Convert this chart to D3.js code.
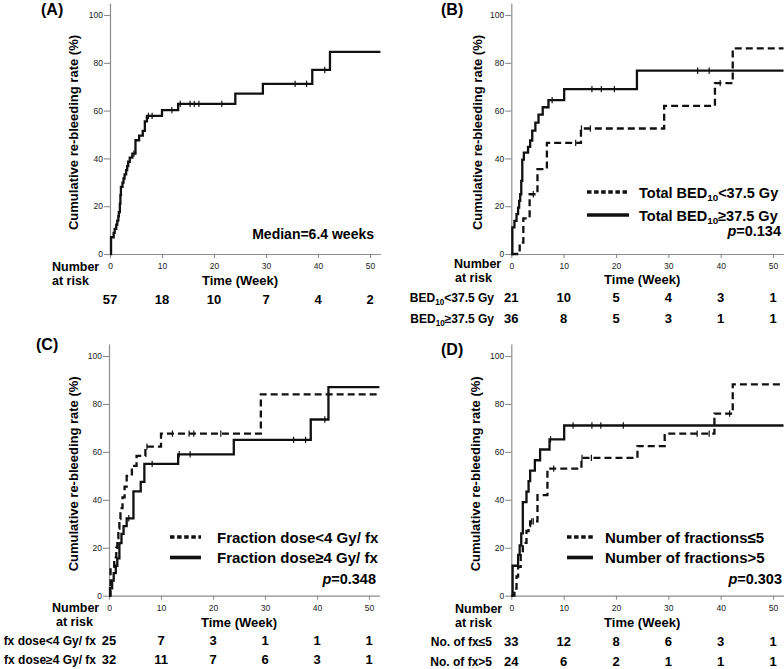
<!DOCTYPE html>
<html><head><meta charset="utf-8">
<script src="https://cdn.jsdelivr.net/npm/d3@7"></script>
<style>
body{margin:0;background:#fff;}
svg text{font-family:"Liberation Sans",Arial,Helvetica,sans-serif;}
</style></head><body>
<svg id="chart" width="784" height="669"></svg>
<script>
const weekTicks=[0,10,20,30,40,50];
const pctTicks=[0,20,40,60,80,100];

// Panel A: all patients
const aTimes=[0.2,0.7,0.9,1.2,1.4,1.6,1.7,1.9,2.0,2.1,2.4,2.6,2.8,3.1,3.3,3.5,3.8,4.3,4.9,5.6,6.3,6.7,7.1,10.0,13.1,24.1,29.4,38.9,42.3];
const aRates=[7.0,8.8,10.5,12.3,14.0,15.8,17.5,21.1,24.6,28.1,29.9,31.6,33.3,35.1,36.8,38.6,40.3,42.0,47.6,49.5,51.5,55.5,57.8,60.2,62.8,67.1,71.2,77.0,84.6];
const aCensor=[4.6,7.4,8.1,11.9,13.5,15.4,16.2,17.1,21.5,35.6,37.8,41.3];
const aRisk=[57,18,10,7,4,2];

// Panel B: BED10
const bLoTimes=[1.6,2.3,3.5,5.0,6.8,13.3,29.2,38.9,42.3];
const bLoRates=[4.8,14.9,25.0,35.5,46.5,52.5,62.0,71.5,86.0];
const bLoCensor=[4.2,12.3,13.4,15.1,39.9];
const bHiTimes=[0.2,0.6,1.0,1.3,1.5,1.7,1.9,2.1,2.4,3.2,3.6,4.0,4.6,5.2,6.0,7.1,10.1,24.0];
const bHiRates=[11.1,13.9,16.7,19.4,22.2,25.0,30.6,39.5,42.4,44.8,47.5,51.6,55.0,58.3,61.4,64.4,69.0,76.7];
const bHiCensor=[7.8,15.4,17.2,19.7,35.6,37.8];
const bRiskLo=[21,10,5,4,3,1];
const bRiskHi=[36,8,5,3,1,1];

// Panel C: fraction dose
const cLoTimes=[0.3,1.0,1.4,1.6,1.8,2.0,2.2,2.6,3.0,3.4,4.4,5.3,7.0,10.0,29.2];
const cLoRates=[12.0,16.0,20.0,24.0,28.0,32.0,36.5,41.0,45.5,50.0,54.2,58.3,62.2,67.6,84.0];
const cLoCensor=[7.3,12.2,15.4,16.3,21.5];
const cHiTimes=[0.2,0.6,0.9,1.3,1.6,2.0,2.4,2.8,3.4,4.7,6.1,6.8,13.3,24.0,38.8,42.2];
const cHiRates=[3.1,6.3,9.4,12.5,15.6,21.9,25.8,29.0,32.3,43.5,47.5,55.0,59.0,65.0,73.5,87.0];
const cHiCensor=[3.8,8.3,13.5,15.6,35.5,37.8,41.5];
const cRiskLo=[25,7,3,1,1,1];
const cRiskHi=[32,11,7,6,3,1];

// Panel D: number of fractions
const dLoTimes=[0.6,1.0,1.3,1.8,2.2,2.9,3.3,3.6,5.0,6.9,13.4,24.1,29.3,38.8,42.3];
const dLoRates=[3.0,8.0,12.0,18.0,22.0,27.0,29.0,31.0,42.0,53.0,57.5,62.4,67.6,76.0,88.2];
const dLoCensor=[3.9,4.2,8.1,13.5,15.3,35.5,37.8,41.7];
const dHiTimes=[0.25,1.3,1.6,1.9,2.2,2.9,3.3,3.6,4.5,5.5,7.3,10.1];
const dHiRates=[12.5,17.0,21.0,26.0,39.0,43.4,47.8,52.2,56.5,61.0,65.2,71.0];
const dHiCensor=[7.5,11.8,15.4,17.1,21.4];
const dRiskLo=[33,12,8,6,3,1];
const dRiskHi=[24,6,2,1,1,1];

const svg=d3.select('#chart');
const AXC='#8c8c8c';

function stepPts(times,rates,end){
  const p=[[0,0]];
  times.forEach((t,i)=>p.push([t,rates[i]]));
  p.push([end,rates[rates.length-1]]);
  return p;
}
function valueAt(times,rates,t){
  let v=0; times.forEach((tt,i)=>{ if(tt<=t) v=rates[i]; }); return v;
}
function addSubText(sel,parts,size){
  parts.forEach(p=>{
    if(p.sub){
      sel.append('tspan').attr('font-size',size*0.68).attr('dy',size*0.22).text(p.t);
    } else {
      const ts=sel.append('tspan').text(p.t);
      if(p.after) ts.attr('dy',-size*0.22);
    }
  });
}

function panel(cfg){
  const g=svg.append('g');
  const x=d3.scaleLinear().domain([0,52]).range([cfg.x0,cfg.x0+52*cfg.kx]);
  const k=(cfg.y0-cfg.y100)/100;
  const y=d3.scaleLinear().domain([0,105]).range([cfg.y0,cfg.y0-105*k]);

  const ya=g.append('g').attr('transform',`translate(${cfg.x0},0)`)
    .call(d3.axisLeft(y).tickValues(pctTicks).tickSize(6).tickPadding(1).tickSizeOuter(0));
  const xa=g.append('g').attr('transform',`translate(0,${cfg.y0})`)
    .call(d3.axisBottom(x).tickValues(weekTicks).tickSize(4).tickPadding(5).tickSizeOuter(0));
  [ya,xa].forEach(a=>{
    a.select('.domain').attr('stroke',AXC).attr('stroke-width',1.2);
    a.selectAll('.tick line').attr('stroke',AXC).attr('stroke-width',1.1);
    a.selectAll('.tick text').attr('fill','#222').attr('font-size',8.5)
      .style('font-family','"Liberation Sans",Arial,sans-serif');
  });

  const line=d3.line().x(d=>x(d[0])).y(d=>y(d[1])).curve(d3.curveStepAfter);
  cfg.series.forEach(s=>{
    g.append('path').datum(stepPts(s.times,s.rates,52)).attr('d',line)
      .attr('fill','none').attr('stroke','#111').attr('stroke-width',2.3)
      .attr('stroke-dasharray',s.dashed?'7,4':null);
    g.selectAll(null).data(s.censor).enter().append('line')
      .attr('x1',d=>x(d)).attr('x2',d=>x(d))
      .attr('y1',d=>y(valueAt(s.times,s.rates,d))-3.2)
      .attr('y2',d=>y(valueAt(s.times,s.rates,d))+3.2)
      .attr('stroke','#111').attr('stroke-width',1.2);
  });

  g.append('text').attr('transform',`translate(${cfg.yTitleX},${(y(0)+y(100))/2-2}) rotate(-90)`)
    .attr('text-anchor','middle').attr('font-size',13).attr('font-weight','bold')
    .text('Cumulative re-bleeding rate (%)');
  g.append('text').attr('x',cfg.letterX).attr('y',cfg.letterY).attr('font-size',16)
    .attr('font-weight','bold').text(cfg.letter);
  g.append('text').attr('x',x(25)).attr('y',cfg.timeY).attr('text-anchor','middle')
    .attr('font-size',13).attr('font-weight','bold').text('Time (Week)');
  g.append('text').attr('x',cfg.numX).attr('y',cfg.numY).attr('font-size',12.5)
    .attr('font-weight','bold').text('Number');
  g.append('text').attr('x',cfg.numX+cfg.riskDx).attr('y',cfg.numY+14).attr('font-size',12.5)
    .attr('font-weight','bold').text('at risk');
  cfg.risk.forEach((r,ri)=>{
    const by=cfg.riskY[ri];
    g.selectAll(null).data(r.vals).enter().append('text')
      .attr('x',(d,i)=>x(weekTicks[i])).attr('y',by).attr('text-anchor','middle')
      .attr('font-size',13).attr('font-weight','bold').text(d=>d);
    if(r.label){
      const t=g.append('text').attr('x',cfg.rowLabelX).attr('y',by).attr('text-anchor','end')
        .attr('font-size',12).attr('font-weight','bold');
      addSubText(t,r.label,12);
    }
  });
  if(cfg.legend){
    const L=cfg.legend;
    L.items.forEach((it,i)=>{
      g.append('line').attr('x1',L.sx1).attr('x2',L.sx2).attr('y1',L.ly[i]).attr('y2',L.ly[i])
        .attr('stroke','#111').attr('stroke-width',3.6)
        .attr('stroke-dasharray',it.dashed?'4.5,2.6':null);
      const t=g.append('text').attr('x',L.tx).attr('y',L.ty[i]).attr('font-size',L.fs||15).attr('font-weight','bold');
      addSubText(t,it.label,L.fs||15);
    });
    const p=g.append('text').attr('x',L.px).attr('y',L.py).attr('text-anchor','end')
      .attr('font-size',14.5).attr('font-weight','bold');
    p.append('tspan').attr('font-style','italic').text('p');
    p.append('tspan').text('='+L.p);
  }
  if(cfg.note){
    g.append('text').attr('x',cfg.note.x).attr('y',cfg.note.y).attr('text-anchor','end')
      .attr('font-size',14).attr('font-weight','bold').text(cfg.note.text);
  }
}

panel({letter:'(A)',letterX:41,letterY:15,x0:110,kx:5.2,y0:254,y100:15,yTitleX:78,
  timeY:285,numX:52,numY:271,riskDx:0,riskY:[304],rowLabelX:0,
  series:[{times:aTimes,rates:aRates,censor:aCensor,dashed:false}],
  risk:[{vals:aRisk}],
  note:{x:374,y:239,text:'Median=6.4 weeks'}});

panel({letter:'(B)',letterX:441,letterY:15,x0:511.3,kx:5.235,y0:254,y100:15,yTitleX:482,
  timeY:284,numX:454,numY:268,riskDx:1,riskY:[302,323],rowLabelX:494,
  series:[{times:bLoTimes,rates:bLoRates,censor:bLoCensor,dashed:true},
          {times:bHiTimes,rates:bHiRates,censor:bHiCensor,dashed:false}],
  risk:[{vals:bRiskLo,label:[{t:'BED'},{t:'10',sub:true},{t:'<37.5 Gy',after:true}]},
        {vals:bRiskHi,label:[{t:'BED'},{t:'10',sub:true},{t:'≥37.5 Gy',after:true}]}],
  legend:{fs:14.5,sx1:587,sx2:629,ly:[192,215],tx:639,ty:[197.5,220.5],px:781,py:236,p:'0.134',
    items:[{dashed:true,label:[{t:'Total BED'},{t:'10',sub:true},{t:'<37.5 Gy',after:true}]},
           {dashed:false,label:[{t:'Total BED'},{t:'10',sub:true},{t:'≥37.5 Gy',after:true}]}]}});

panel({letter:'(C)',letterX:36,letterY:350,x0:109,kx:5.2,y0:595.7,y100:356,yTitleX:78,
  timeY:627,numX:52,numY:611.5,riskDx:4,riskY:[645,664],rowLabelX:96,
  series:[{times:cLoTimes,rates:cLoRates,censor:cLoCensor,dashed:true},
          {times:cHiTimes,rates:cHiRates,censor:cHiCensor,dashed:false}],
  risk:[{vals:cRiskLo,label:[{t:'fx dose<4 Gy/ fx'}]},
        {vals:cRiskHi,label:[{t:'fx dose≥4 Gy/ fx'}]}],
  legend:{sx1:170,sx2:201,ly:[537,557.5],tx:217,ty:[543,563],px:376,py:584,p:'0.348',
    items:[{dashed:true,label:[{t:'Fraction dose<4 Gy/ fx'}]},
           {dashed:false,label:[{t:'Fraction dose≥4 Gy/ fx'}]}]}});

panel({letter:'(D)',letterX:441,letterY:355,x0:511.3,kx:5.235,y0:595.7,y100:356,yTitleX:480,
  timeY:627,numX:455,numY:612.5,riskDx:0,riskY:[646,666],rowLabelX:492,
  series:[{times:dLoTimes,rates:dLoRates,censor:dLoCensor,dashed:true},
          {times:dHiTimes,rates:dHiRates,censor:dHiCensor,dashed:false}],
  risk:[{vals:dRiskLo,label:[{t:'No. of fx≤5'}]},
        {vals:dRiskHi,label:[{t:'No. of fx>5'}]}],
  legend:{sx1:567,sx2:593,ly:[537,557.5],tx:605,ty:[543,563],px:782,py:584,p:'0.303',
    items:[{dashed:true,label:[{t:'Number of fractions≤5'}]},
           {dashed:false,label:[{t:'Number of fractions>5'}]}]}});
</script>
</body></html>
